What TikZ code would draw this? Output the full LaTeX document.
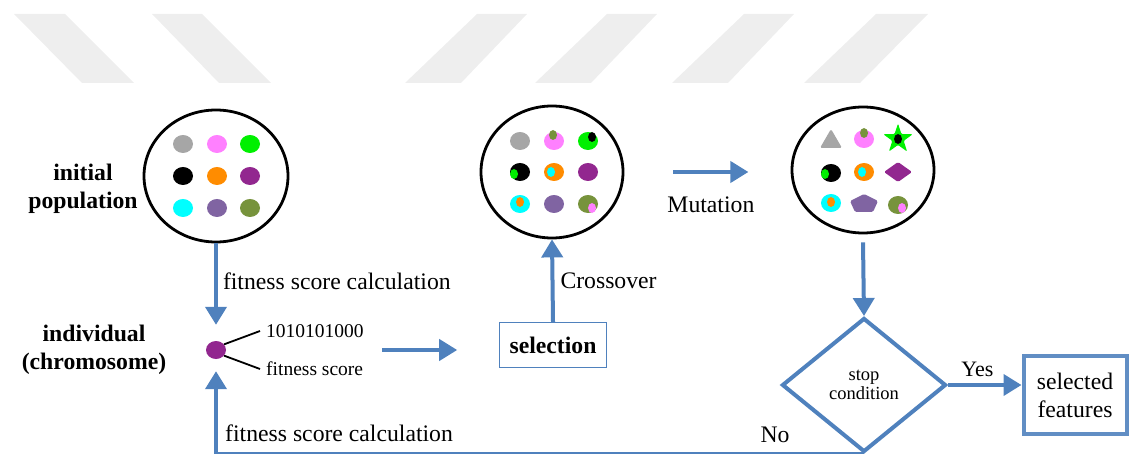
\documentclass[tikz,border=0pt]{standalone}
\usepackage{fontspec}
\setmainfont{Liberation Serif}
\usetikzlibrary{arrows.meta,shapes.geometric}
\definecolor{flowblue}{HTML}{4F81BD}
\definecolor{wmgray}{HTML}{EEEEEE}
\definecolor{cgray}{HTML}{A6A6A6}
\definecolor{cpink}{HTML}{FF80FF}
\definecolor{cgreen}{HTML}{00F000}
\definecolor{corange}{HTML}{FF8C00}
\definecolor{cpurple}{HTML}{92278F}
\definecolor{ccyan}{HTML}{00FFFF}
\definecolor{clav}{HTML}{8064A2}
\definecolor{colive}{HTML}{77933C}
\begin{document}
\begin{tikzpicture}[x=1pt,y=-1pt,
  big/.style={font=\fontsize{23.7}{26}\selectfont},
  mid/.style={font=\fontsize{19.5}{22}\selectfont},
  small/.style={font=\fontsize{18.5}{19.5}\selectfont},
  popcircle/.style={draw=black,line width=2.8pt,ellipse,inner sep=0pt},
  dot/.style={ellipse,inner sep=0pt,minimum width=20pt,minimum height=18pt,fill=#1},
  idot/.style={ellipse,inner sep=0pt,minimum width=8pt,minimum height=10pt,fill=#1},
  flow/.style={draw=flowblue,line width=4pt,-{Triangle[width=21pt,length=18pt]}},
  wm/.style={fill=wmgray},
  lbl/.style={font=\fontsize{23.7}{28}\selectfont\bfseries,align=center},
]
\useasboundingbox (0,0) rectangle (1132,454);
% watermark stripes
\fill[wm] (14,14)--(65,14)--(134,83)--(82,83)--cycle;
\fill[wm] (152,14)--(202,14)--(271,83)--(219,83)--cycle;
\fill[wm] (477,14)--(527,14)--(461,83)--(405,83)--cycle;
\fill[wm] (607,14)--(657,14)--(591,83)--(535,83)--cycle;
\fill[wm] (744,14)--(794,14)--(728,83)--(672,83)--cycle;
\fill[wm] (876,14)--(928,14)--(860,83)--(804,83)--cycle;

% circle 1
\node[popcircle,minimum width=144pt,minimum height=132pt] (c1) at (216,176) {};
\node[dot=cgray] (a11) at (183,144) {};
\node[dot=cpink] (a12) at (217,144) {};
\node[dot=cgreen] (a13) at (250,144) {};
\node[dot=black] (a21) at (183,176) {};
\node[dot=corange] (a22) at (217,176) {};
\node[dot=cpurple] (a23) at (250,176) {};
\node[dot=ccyan] (a31) at (183,208) {};
\node[dot=clav] (a32) at (217,208) {};
\node[dot=colive] (a33) at (250,208) {};

% circle 2
\node[popcircle,minimum width=142pt,minimum height=132pt] (c2) at (552,172) {};
\node[dot=cgray] (b11) at (520,141) {};
\node[dot=cpink] (b12) at (554,141) {};
\node[dot=cgreen] (b13) at (588,141) {};
\node[dot=black] (b21) at (520,172) {};
\node[dot=corange] (b22) at (554,172) {};
\node[dot=cpurple] (b23) at (588,172) {};
\node[dot=ccyan] (b31) at (520,204) {};
\node[dot=clav] (b32) at (554,204) {};
\node[dot=colive] (b33) at (588,204) {};
\node[idot=colive] (bi12) at (553,135) {};
\node[idot=black] (bi13) at (592,137) {};
\node[idot=cgreen] (bi21) at (514,174) {};
\node[idot=ccyan] (bi22) at (551,172) {};
\node[idot=corange] (bi31) at (520,202) {};
\node[idot=cpink] (bi33) at (592,208) {};

% circle 3
\node[popcircle,minimum width=142pt,minimum height=126pt] (c3) at (863,170) {};
\fill[cgray,rounded corners=1.5pt] (820,148)--(842,148)--(831,129)--cycle;
\node[dot=cpink] (d12) at (864,139) {};
\node[idot=colive] (di12) at (864,133) {};
\node[star,star points=5,star point ratio=2.6,minimum size=31pt,inner sep=0pt,fill=cgreen,rounded corners=1.2pt] (d13) at (898,139) {};
\node[idot=black] (di13) at (898,139) {};
\node[dot=black] (d21) at (831,173) {};
\node[idot=cgreen] (di21) at (825,174) {};
\node[dot=corange] (d22) at (864,172) {};
\node[idot=ccyan] (di22) at (862,172) {};
\fill[cpurple,rounded corners=1.5pt] (884,172)--(898,162)--(912,172)--(898,182)--cycle;
\node[dot=ccyan] (d31) at (831,203) {};
\node[idot=corange] (di31) at (831,202) {};
\fill[clav,rounded corners=1.5pt] (864,194)--(878,201)--(873,212)--(855,212)--(850,201)--cycle;
\node[dot=colive] (d33) at (898,205) {};
\node[idot=cpink] (di33) at (902,208) {};

% labels left
\node[lbl] (lpop) at (83,189) {initial\\population};
\node[lbl] (lind) at (94,350) {individual\\(chromosome)};

% individual
\node[dot=cpurple] (ind) at (216,350) {};
\node[mid,anchor=west,inner sep=0pt] (bin) at (266,331) {1010101000};
\node[mid,anchor=west,inner sep=0pt] (fsc) at (266,369) {fitness score};
\draw[black,line width=1.8pt] (ind.35) -- ([xshift=-6pt]bin.west);
\draw[black,line width=1.8pt] (ind.-35) -- ([xshift=-6pt]fsc.west);

% selection
\node[draw=flowblue,line width=1.3pt,minimum width=107pt,minimum height=45pt,inner sep=0pt,font=\fontsize{23.7}{26}\selectfont\bfseries] (sel) at (553,345) {selection};

% decision
\node[small,draw=flowblue,line width=4pt,diamond,minimum width=164pt,minimum height=134pt,inner sep=0pt,align=center] (dia) at (864,385) {stop\\condition};
\node[draw=flowblue!90,line width=4pt,minimum width=103pt,minimum height=78pt,inner sep=0pt,align=center,font=\fontsize{23.7}{28}\selectfont] (feat) at (1075,395) {selected\\features};

% connectors
\draw[flow] (c1.south) -- ([yshift=16pt]ind.north) node[pos=0.47,right=5pt,big,inner sep=0pt] (t1) {fitness score calculation};
\draw[flow] ([xshift=156pt]ind.east) -- ++(75,0);
\draw[flow] (sel.north) -- (c2.south) node[pos=0.5,right=6pt,big,inner sep=0pt] (t2) {Crossover};
\draw[flow] ([xshift=49pt]c2.east) -- ++(75,0) node[pos=0.5,below=23pt,big,inner sep=0pt] (t3) {Mutation};
\draw[flow] ([yshift=-8pt]c3.south) -- (dia.north);
\draw[flow] (dia.east) -- (dia.east -| feat.west) node[pos=0.4,above=6pt,inner sep=0pt,font=\fontsize{22}{24}\selectfont] (t4) {Yes};
\draw[flow] (dia.south) -| ([yshift=-12pt]ind.south);
\node[big,anchor=west,inner sep=0pt] (t5) at (225,433) {fitness score calculation};
\node[big,inner sep=0pt] (t6) at (775,435) {No};
\end{tikzpicture}
\end{document}
